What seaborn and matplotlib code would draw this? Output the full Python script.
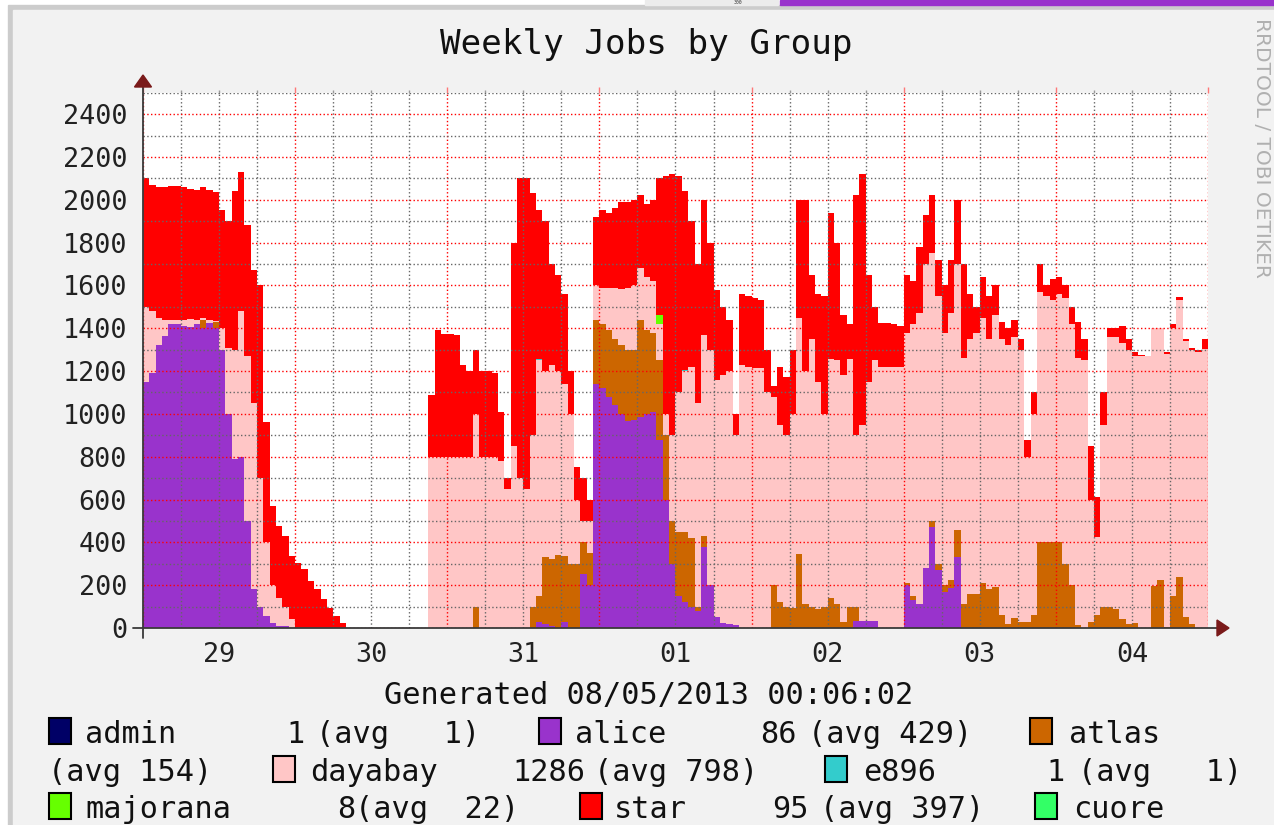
import numpy as np
import pandas as pd
import matplotlib
matplotlib.use("Agg")
import matplotlib.pyplot as plt
from matplotlib.patches import Rectangle, Polygon
from matplotlib.ticker import MultipleLocator
from matplotlib.transforms import blended_transform_factory
import seaborn as sns

# hourly jobs per group, 29 Jul 00:00 -> 05 Aug 00:00 (168 hours, 12 per row)
alice = [
    1150, 1190, 1320, 1365, 1420, 1420, 1410, 1405, 1420, 1400, 1425, 1400,
    1300, 1000, 790, 800, 500, 180, 100, 55, 25, 10, 10, 0,
    0, 0, 0, 0, 0, 0, 0, 0, 0, 0, 0, 0,
    0, 0, 0, 0, 0, 0, 0, 0, 0, 0, 0, 0,
    0, 0, 0, 0, 0, 0, 0, 0, 0, 0, 0, 0,
    0, 0, 30, 20, 10, 0, 30, 0, 0, 250, 200, 1140,
    1120, 1080, 1040, 1000, 965, 970, 985, 1000, 1010, 880, 600, 300,
    150, 120, 100, 80, 380, 200, 50, 25, 20, 15, 0, 0,
    0, 0, 0, 0, 0, 0, 0, 0, 0, 0, 0, 0,
    0, 0, 0, 0, 35, 35, 35, 35, 0, 0, 0, 0,
    200, 130, 110, 280, 470, 270, 170, 185, 330, 0, 0, 0,
    0, 0, 0, 0, 0, 0, 0, 0, 0, 0, 0, 0,
    0, 0, 0, 0, 0, 0, 0, 0, 0, 0, 0, 0,
    0, 0, 0, 0, 0, 0, 0, 0, 0, 0, 0, 0,
]
atlas = [
    0, 0, 0, 0, 0, 0, 0, 0, 0, 40, 0, 30,
    0, 0, 0, 0, 0, 0, 0, 0, 0, 0, 0, 0,
    0, 0, 0, 0, 0, 0, 0, 0, 0, 0, 0, 0,
    0, 0, 0, 0, 0, 0, 0, 0, 0, 0, 0, 0,
    0, 0, 0, 0, 100, 0, 0, 0, 0, 0, 0, 0,
    0, 100, 120, 310, 310, 340, 305, 300, 300, 150, 150, 300,
    300, 310, 310, 320, 335, 330, 455, 390, 370, 370, 300, 200,
    300, 330, 320, 20, 50, 0, 0, 0, 0, 0, 0, 0,
    0, 0, 0, 200, 120, 100, 95, 345, 110, 100, 90, 100,
    140, 110, 30, 100, 65, 0, 0, 0, 0, 0, 0, 0,
    10, 20, 0, 0, 30, 30, 30, 40, 130, 110, 160, 160,
    210, 180, 190, 60, 20, 45, 30, 30, 60, 400, 400, 400,
    400, 300, 200, 15, 0, 30, 60, 100, 100, 90, 40, 20,
    25, 0, 0, 195, 225, 5, 150, 240, 50, 20, 0, 0,
]
dayabay = [
    350, 290, 130, 75, 20, 20, 30, 40, 20, 10, 15, 5,
    100, 310, 510, 680, 770, 870, 600, 345, 175, 130, 90, 40,
    0, 0, 0, 0, 0, 0, 0, 0, 0, 0, 0, 0,
    0, 0, 0, 0, 0, 0, 0, 0, 0, 800, 800, 800,
    800, 800, 800, 800, 900, 800, 800, 800, 780, 650, 850, 700,
    650, 800, 1100, 870, 910, 860, 805, 700, 300, 100, 150, 160,
    170, 200, 240, 265, 290, 300, 240, 250, 240, 170, 100, 400,
    650, 750, 800, 950, 940, 1100, 1110, 1155, 1180, 885, 1230, 1220,
    1215, 1215, 1100, 880, 830, 800, 905, 1105, 1090, 1250, 1060, 900,
    1115, 1140, 1150, 1155, 800, 915, 1115, 1215, 1220, 1220, 1220, 1220,
    1170, 1270, 1360, 1420, 1250, 1250, 1180, 1245, 1240, 1150, 1190, 1220,
    1240, 1170, 1270, 1290, 1300, 1315, 1270, 770, 940, 1170, 1150, 1130,
    1160, 1240, 1220, 1245, 1250, 570, 365, 850, 1260, 1270, 1290, 1280,
    1245, 1270, 1270, 1205, 1175, 1275, 1250, 1290, 1290, 1280, 1290, 1305,
]
star = [
    600, 590, 610, 620, 625, 625, 620, 605, 605, 610, 605, 600,
    550, 590, 740, 650, 610, 620, 900, 560, 370, 335, 330, 295,
    305, 275, 220, 180, 135, 95, 55, 25, 0, 0, 0, 0,
    0, 0, 0, 0, 0, 0, 0, 0, 0, 290, 590, 575,
    575, 570, 430, 400, 300, 400, 400, 390, 230, 50, 950, 1400,
    1450, 1130, 695, 700, 470, 450, 420, 200, 150, 200, 100, 320,
    360, 350, 370, 405, 400, 400, 340, 340, 380, 640, 1110, 1220,
    1010, 835, 680, 650, 630, 500, 420, 320, 240, 100, 330, 330,
    325, 315, 200, 50, 270, 270, 300, 550, 800, 300, 410, 550,
    685, 550, 280, 165, 1120, 1170, 500, 250, 205, 205, 200, 190,
    270, 200, 310, 230, 270, 170, 220, 250, 300, 440, 210, 120,
    190, 200, 140, 80, 80, 80, 50, 80, 100, 130, 50, 100,
    80, 60, 80, 170, 100, 250, 185, 150, 40, 40, 80, 50,
    20, 5, 0, 0, 0, 10, 20, 15, 10, 10, 10, 45,
]
# tiny groups: only a few hours carry jobs
majorana = [0] * 81 + [40] + [0] * 86
e896 = [0] * 62 + [5] + [0] * 22 + [5] + [0] * 82
admin = [0] * 168
cuore = [0] * 168

groups = ["admin", "alice", "atlas", "dayabay", "e896", "majorana", "star", "cuore"]
colors = ["#000066", "#9933cc", "#cc6600", "#ffc6c6", "#33cccc", "#66ff00", "#ff0000", "#33ff66"]
series = [admin, alice, atlas, dayabay, e896, majorana, star, cuore]
day_labels = ["29", "30", "31", "01", "02", "03", "04"]
cur_vals = ["1", "86", "", "1286", "1", "8", "95", ""]
avg_vals = ["1", "429", "154", "798", "1", "22", "397", ""]

hours = np.arange(168)
df = pd.DataFrame({
    "hour": np.tile(hours, len(groups)) + 0.5,
    "group": np.repeat(groups, len(hours)),
    "jobs": np.concatenate(series),
})

W, H = 1274, 825
def fx(x):
    return x / W
def fy(y):
    return 1 - y / H

sns.set_theme(style="white")
plt.rcParams["font.family"] = ["DejaVu Sans Mono", "DejaVu Sans"]

fig = plt.figure(figsize=(W / 100, H / 100), dpi=100, facecolor="white")

# page frame around the rrd image
fig.patches.append(Rectangle((fx(8), 0), 1 - fx(8), fy(5), transform=fig.transFigure,
                             color="#cccccc", zorder=-10))
fig.patches.append(Rectangle((fx(13), 0), 1 - fx(13), fy(10), transform=fig.transFigure,
                             color="#f2f2f2", zorder=-9))
fig.patches.append(Rectangle((fx(645), fy(5)), (778 - 645) / W, 5 / H, transform=fig.transFigure,
                             color="#ececec", zorder=-9))
fig.patches.append(Rectangle((fx(780), fy(5)), 1 - fx(780), 5 / H, transform=fig.transFigure,
                             color="#9933cc", zorder=-9))
fig.text(fx(738), fy(0.5), "300", ha="center", va="top", fontsize=3.5, color="#333333")

ax = fig.add_axes([fx(143), fy(628), 1065 / W, (628 - 92.7) / H])
ax.set_facecolor("white")

sns.histplot(data=df, x="hour", weights="jobs", hue="group", hue_order=groups[::-1],
             palette=dict(zip(groups, colors)), multiple="stack",
             binwidth=1, binrange=(0, 168), element="step", fill=True, alpha=1,
             linewidth=0, legend=False, ax=ax)

ax.set_xlim(0, 168)
ax.set_ylim(0, 2500)
ax.set_xlabel("")
ax.set_ylabel("")
ax.xaxis.set_major_locator(MultipleLocator(24))
ax.xaxis.set_minor_locator(MultipleLocator(6))
ax.yaxis.set_major_locator(MultipleLocator(200))
ax.yaxis.set_minor_locator(MultipleLocator(100))

ax.set_axisbelow(False)
dots = (0, (1, 1.7))
ax.grid(True, which="major", color=(1, 0, 0, 0.3), linestyle=dots, linewidth=1)
ax.grid(True, which="minor", color=(0.4, 0.4, 0.4, 0.45), linestyle=dots, linewidth=1)

for s in ax.spines.values():
    s.set_visible(False)

ax.tick_params(axis="both", which="major", direction="out", length=4, width=1,
               color="#ff7777")
ax.tick_params(axis="both", which="minor", direction="out", length=2.5, width=1,
               color="#999999")
ax.tick_params(axis="x", which="both", top=True, labelbottom=False)
ax.tick_params(axis="y", which="major", labelsize=19.3, labelcolor="#222222", pad=7.5)

# day labels centred at noon
tr = blended_transform_factory(ax.transData, ax.transAxes)
for i, lab in enumerate(day_labels):
    ax.text(12 + 24 * i, (628 - 662) / 535.3, lab, transform=tr, ha="center",
            va="baseline", fontsize=19.3, color="#222222")

# axis lines and arrow heads
ax.plot([0, 0], [-10 / 535.3, (628 - 87) / 535.3], transform=ax.transAxes,
        color="#3a3a3a", lw=1.3, clip_on=False, zorder=5)
ax.plot([-10 / 1065, (1217 - 143) / 1065], [0, 0], transform=ax.transAxes,
        color="#3a3a3a", lw=1.3, clip_on=False, zorder=5)
arrow_col = "#7a1a1a"
fig.patches.append(Polygon([(fx(134.5), fy(87)), (fx(151.5), fy(87)), (fx(143), fy(75))],
                           closed=True, transform=fig.transFigure, color=arrow_col, zorder=5))
fig.patches.append(Polygon([(fx(1217), fy(620)), (fx(1217), fy(636)), (fx(1229), fy(628))],
                           closed=True, transform=fig.transFigure, color=arrow_col, zorder=5))

# title, watermark, footer
fig.text(fx(646), fy(54), "Weekly Jobs by Group", ha="center", va="baseline",
         fontsize=24.7, color="#111111")
fig.text(fx(1262), fy(18), "RRDTOOL / TOBI OETIKER", rotation=270, ha="center", va="top",
         fontsize=14.5, color="#b0b0b0", family="DejaVu Sans")
fig.text(fx(649), fy(704), "Generated 08/05/2013 00:06:02", ha="center", va="baseline",
         fontsize=21.8, color="#111111")

# legend: (group index, row, box x, name x, value x, avg x)
rows = {0: 743, 1: 781, 2: 818}
boxes_top = {0: 718, 1: 756, 2: 793}
layout = [
    (0, 0, 49, 88, 290, 321),
    (1, 0, 539, 578, 764, 813),
    (2, 0, 1030, 1072, None, None),
    (3, 1, 273, 313, 516, 599),
    (4, 1, 825, 866, 1050, 1083),
    (5, 2, 49, 88, 341, 360),
    (6, 2, 580, 617, 776, 825),
    (7, 2, 1035, 1076, None, None),
]
fs = 21.8
for gi, r, bx, nx, vx, ax_x in layout:
    y = rows[r]
    fig.patches.append(Rectangle((fx(bx), fy(boxes_top[r] + 26)), 22 / W, 26 / H,
                                 transform=fig.transFigure, facecolor=colors[gi],
                                 edgecolor="black", linewidth=1.5, zorder=5))
    fig.text(fx(nx - 3), fy(y), groups[gi], ha="left", va="baseline", fontsize=fs, color="#111111")
    if vx is not None:
        fig.text(fx(vx - 4), fy(y), cur_vals[gi], ha="left", va="baseline", fontsize=fs,
                 color="#111111")
        avg_txt = "(avg %s)" % avg_vals[gi].rjust(3)
        fig.text(fx(ax_x - 5), fy(y), avg_txt, ha="left", va="baseline", fontsize=fs,
                 color="#111111")
# wrapped avg of atlas at start of second row
fig.text(fx(53 - 5), fy(rows[1]), "(avg %s)" % avg_vals[2], ha="left", va="baseline",
         fontsize=fs, color="#111111")

fig.savefig("out.png", dpi=100, facecolor=fig.get_facecolor())
